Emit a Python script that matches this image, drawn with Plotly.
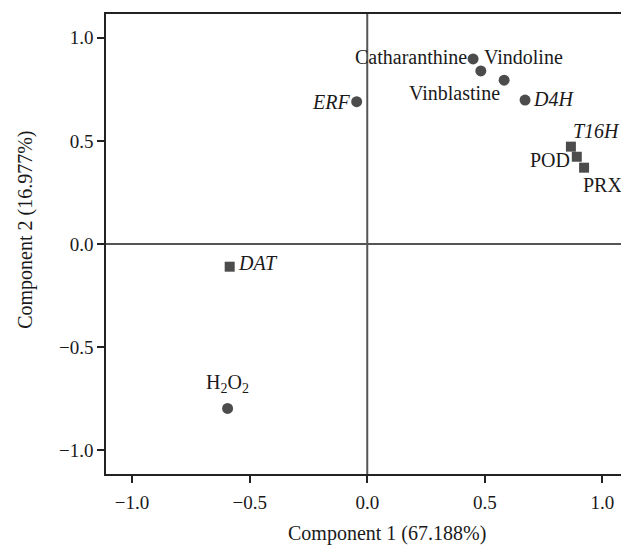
import plotly.graph_objects as go

names = ["Catharanthine", "Vindoline", "Vinblastine", "<i>D4H</i>", "<i>ERF</i>",
         "<i>T16H</i>", "POD", "PRX", "<i>DAT</i>", "H<sub>2</sub>O<sub>2</sub>"]
comp1 = [0.450, 0.483, 0.582, 0.671, -0.045, 0.866, 0.891, 0.922, -0.585, -0.594]
comp2 = [0.897, 0.839, 0.794, 0.698, 0.690, 0.472, 0.423, 0.370, -0.110, -0.797]
symbols = ["circle", "circle", "circle", "circle", "circle",
           "square", "square", "square", "square", "circle"]
x_title = "Component 1 (67.188%)"
y_title = "Component 2 (16.977%)"
ticks = [-1.0, -0.5, 0.0, 0.5, 1.0]
ticklabels = ["\u22121.0", "\u22120.5", "0.0", "0.5", "1.0"]

# label placement (anchor, xshift, yshift)
label_pos = [("right", -4, 2), ("left", 1, 14), ("right", -2, -13), ("left", 6, 1),
             ("right", -5, 0), ("left", 0, 16), ("right", -5, -3), ("left", -3, -17),
             ("left", 6, 4), ("center", 0, 25)]

FONT = "Liberation Serif"

fig = go.Figure()
fig.add_trace(go.Scatter(
    x=comp1, y=comp2, mode="markers",
    marker=dict(symbol=symbols, size=[11 if s == "circle" else 10 for s in symbols],
                color="black", line=dict(width=0)),
    hoverinfo="skip", showlegend=False))

for n, x, y, (anc, xs, ys) in zip(names, comp1, comp2, label_pos):
    fig.add_annotation(x=x, y=y, text=n, showarrow=False, xanchor=anc, yanchor="middle",
                       xshift=xs, yshift=ys, font=dict(family=FONT, size=20, color="#1a1a1a"))

# axis titles (placed as in the reference, which is cropped on the right)
fig.add_annotation(xref="paper", yref="paper", x=0.546, y=-0.129, text=x_title,
                   showarrow=False, xanchor="center", yanchor="middle",
                   font=dict(family=FONT, size=20, color="#1a1a1a"))
fig.add_annotation(xref="paper", yref="paper", x=-0.156, y=0.530, text=y_title,
                   showarrow=False, xanchor="center", yanchor="middle", textangle=-90,
                   font=dict(family=FONT, size=20, color="#1a1a1a"))

fig.add_shape(type="line", x0=0, x1=0, y0=-1.115, y1=1.115, line=dict(color="#555", width=2))
fig.add_shape(type="line", x0=-1.111, x1=1.079, y0=0, y1=0, line=dict(color="#555", width=2))

fig.update_layout(
    width=621, height=545,
    margin=dict(l=105.5, r=0, t=14, b=71.3),
    plot_bgcolor="white", paper_bgcolor="white",
    font=dict(family=FONT, size=19, color="#1a1a1a"),
    xaxis=dict(range=[-1.111, 1.079], tickvals=ticks, ticktext=ticklabels,
               showgrid=False, zeroline=False, showline=True, linecolor="#222", linewidth=1.5,
               mirror=True, ticks="outside", ticklen=7, tickwidth=1.5, tickcolor="#222",
               ticklabelstandoff=3),
    yaxis=dict(range=[-1.115, 1.115], tickvals=ticks, ticktext=ticklabels,
               showgrid=False, zeroline=False, showline=True, linecolor="#222", linewidth=1.5,
               mirror=False, ticks="outside", ticklen=7, tickwidth=1.5, tickcolor="#222"),
)

fig.write_html("out.html")
